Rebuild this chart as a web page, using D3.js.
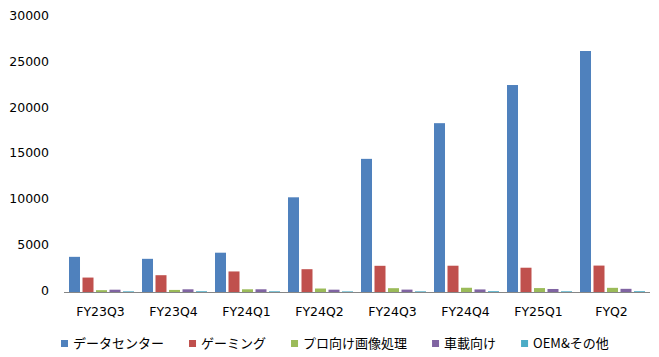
<!DOCTYPE html>
<html><head><meta charset="utf-8">
<script src="https://cdn.jsdelivr.net/npm/d3@7"></script>
<style>body{margin:0;background:#fff}svg{display:block}</style>
</head><body>
<svg id="c" width="659" height="357"></svg>
<script>
const categories = ["FY23Q3","FY23Q4","FY24Q1","FY24Q2","FY24Q3","FY24Q4","FY25Q1","FYQ2"];
const seriesNames = ["データセンター","ゲーミング","プロ向け画像処理","車載向け","OEM&その他"];
const dataCenter = [3833,3616,4284,10323,14514,18404,22563,26272];
const gaming = [1574,1831,2240,2486,2856,2865,2647,2880];
const proViz = [200,226,295,379,416,463,427,454];
const automotive = [251,294,296,253,261,281,329,346];
const oemOther = [73,84,77,66,73,90,78,88];
const yTicks = [0,5000,10000,15000,20000,25000,30000];
const colors = ["#4F81BD","#C0504D","#9BBB59","#8064A2","#4BACC6"];
const series = [dataCenter, gaming, proViz, automotive, oemOther];

const svg = d3.select("#c");
const latin = "'DejaVu Sans', Verdana, sans-serif";
const jp = "'Noto Sans CJK JP', sans-serif";

const x = d3.scaleBand().domain(categories).range([64, 648]).padding(0);
const xi = d3.scaleBand().domain(d3.range(series.length)).range([5, 70]).paddingInner(0.185).paddingOuter(0);
const y = d3.scaleLinear().domain([0, 30000]).range([292, 16.8]);

// bars
const g = svg.append("g");
series.forEach((vals, si) => {
  g.selectAll(null).data(vals).enter().append("rect")
    .attr("x", (d, i) => x(categories[i]) + xi(si))
    .attr("width", xi.bandwidth())
    .attr("y", d => y(d))
    .attr("height", d => y(0) - y(d))
    .attr("fill", colors[si]);
});

// y axis labels
const ya = svg.append("g").attr("transform", "translate(49,-1.5)")
  .call(d3.axisLeft(y).tickValues(yTicks).tickSize(0).tickPadding(0).tickFormat(d3.format("d")));
ya.select(".domain").remove();
ya.selectAll("text").attr("font-family", latin).attr("font-size", 12.5).attr("fill", "#000");

// x axis
const xa = svg.append("g").attr("transform", "translate(0,292)")
  .call(d3.axisBottom(x).tickSize(0).tickPadding(15));
xa.select(".domain").attr("stroke", "#868686").attr("d", "M64,0.5H650");
xa.selectAll("text").attr("font-family", latin).attr("font-size", 12.5).attr("fill", "#000");

// legend
const leg = svg.append("g");
let lx = 61;
seriesNames.forEach((name, si) => {
  leg.append("rect").attr("x", lx).attr("y", 340).attr("width", 7).attr("height", 7).attr("fill", colors[si]);
  const t = leg.append("text").attr("x", lx + 12).attr("y", 343.5).attr("dy", "0.35em")
    .attr("font-family", jp).attr("font-size", 13).attr("fill", "#000").text(name);
  lx += 12 + t.node().getComputedTextLength() + 25;
});
</script>
</body></html>
